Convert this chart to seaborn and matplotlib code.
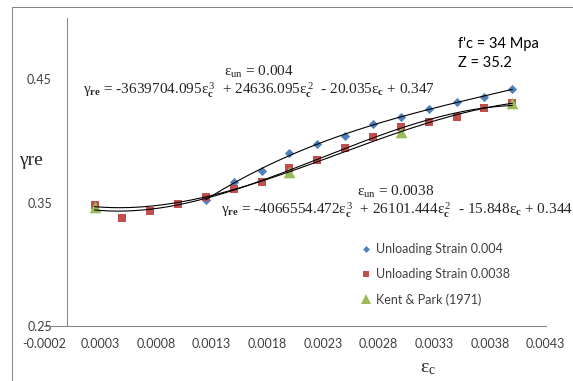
import numpy as np
import pandas as pd
import matplotlib
matplotlib.use("Agg")
import matplotlib.pyplot as plt
import seaborn as sns
from matplotlib.lines import Line2D
from matplotlib.patches import Rectangle

# ---- data -------------------------------------------------------------
strain_004 = [0.00125, 0.0015, 0.00175, 0.002, 0.00225, 0.0025,
              0.00275, 0.003, 0.00325, 0.0035, 0.00375, 0.004]
gamma_004 = [0.3522, 0.3670, 0.3757, 0.3901, 0.3974, 0.4043,
             0.4138, 0.4193, 0.4260, 0.4317, 0.4357, 0.4422]

strain_0038 = [0.00025, 0.0005, 0.00075, 0.001, 0.00125, 0.0015, 0.00175, 0.002,
               0.00225, 0.0025, 0.00275, 0.003, 0.00325, 0.0035, 0.00375, 0.004]
gamma_0038 = [0.3485, 0.3376, 0.3435, 0.3487, 0.3544, 0.3609, 0.3670, 0.3784,
              0.3846, 0.3946, 0.4035, 0.4116, 0.4157, 0.4197, 0.4266, 0.4309]

strain_kp = [0.00025, 0.002, 0.003, 0.004]
gamma_kp = [0.3468, 0.3751, 0.4076, 0.4306]

series_names = ["Unloading Strain 0.004", "Unloading Strain 0.0038", "Kent & Park (1971)"]

eq_004 = ["-3639704.095", "24636.095", "20.035", "0.347"]
eq_0038 = ["-4066554.472", "26101.444", "15.848", "0.344"]

x_ticks = [-0.0002, 0.0003, 0.0008, 0.0013, 0.0018, 0.0023, 0.0028, 0.0033, 0.0038, 0.0043]
x_tick_labels = ["-0.0002", "0.0003", "0.0008", "0.0013", "0.0018",
                 "0.0023", "0.0028", "0.0033", "0.0038", "0.0043"]
y_ticks = [0.25, 0.35, 0.45]
y_tick_labels = ["0.25", "0.35", "0.45"]

# ---- style ------------------------------------------------------------
sns.set_style("white")
plt.rcParams["font.family"] = ["Lato", "DejaVu Sans"]
plt.rcParams["mathtext.fontset"] = "custom"
plt.rcParams["mathtext.rm"] = "Liberation Serif"
plt.rcParams["mathtext.it"] = "Liberation Serif:italic"
plt.rcParams["mathtext.bf"] = "Liberation Serif:bold"

BLUE, RED, GREEN = "#4F81BD", "#C0504D", "#9BBB59"
AXIS_GREY = "#868686"
TEXT_GREY = "#404040"

W, H = 573, 381
fig = plt.figure(figsize=(W / 100, H / 100), dpi=100)


def px(x, y):
    return x / W, 1 - y / H


ax = fig.add_axes([44.4 / W, 1 - 326 / H, 501.3 / W, 308.3 / H])
ax.set_xlim(-0.0002, 0.0043)
ax.set_ylim(0.25, 0.5)

frames = []
for name, xs, ys in zip(series_names,
                        [strain_004, strain_0038, strain_kp],
                        [gamma_004, gamma_0038, gamma_kp]):
    frames.append(pd.DataFrame({"strain": xs, "gamma": ys, "series": name}))
df = pd.concat(frames, ignore_index=True)

styles = {
    series_names[0]: dict(marker="D", color=BLUE, s=22),
    series_names[1]: dict(marker="s", color=RED, s=30),
    series_names[2]: dict(marker="^", color=GREEN, s=70),
}
for name in series_names:
    st = styles[name]
    sns.scatterplot(data=df[df["series"] == name], x="strain", y="gamma",
                    marker=st["marker"], color=st["color"], s=st["s"],
                    linewidth=0, ax=ax, legend=False, zorder=3)

# third-order polynomial trendlines
for name in series_names:
    sub = df[df["series"] == name]
    coef = np.polyfit(sub["strain"], sub["gamma"], 3)
    xx = np.linspace(sub["strain"].min(), sub["strain"].max(), 200)
    sns.lineplot(x=xx, y=np.polyval(coef, xx), color="black", lw=0.8,
                 ax=ax, zorder=4, sort=False, estimator=None)

# axes
ax.spines["top"].set_visible(False)
ax.spines["right"].set_visible(False)
ax.spines["left"].set_position(("data", 0))
for s in ("left", "bottom"):
    ax.spines[s].set_color(AXIS_GREY)
    ax.spines[s].set_linewidth(0.75)
ax.set_xticks(x_ticks)
ax.set_xticklabels(x_tick_labels)
ax.set_yticks(y_ticks)
ax.set_yticklabels(y_tick_labels)
ax.tick_params(axis="both", direction="out", length=3.6, width=0.75,
               color=AXIS_GREY, labelcolor=TEXT_GREY, labelsize=9)
ax.tick_params(axis="y", pad=7)
ax.tick_params(axis="x", pad=5)
ax.set_xlabel("")
ax.set_ylabel("")
ax.grid(False)

# legend
handles = [
    Line2D([], [], marker="D", ls="none", color=BLUE, ms=3.5, mew=0),
    Line2D([], [], marker="s", ls="none", color=RED, ms=5, mew=0),
    Line2D([], [], marker="^", ls="none", color=GREEN, ms=7, mew=0),
]
ax.legend(handles, series_names, loc="upper left",
          bbox_to_anchor=((361 - 44.4) / 501.3, (326 - 243) / 308.3),
          frameon=False, handlelength=0.8, handletextpad=0.4,
          labelspacing=1.05, borderpad=0, borderaxespad=0,
          prop={"family": "Lato", "size": 9}, labelcolor=TEXT_GREY)

# annotations
serif = "Liberation Serif"
ec = r"$\mathrm{ε}_{\mathbf{c}}$"
ec3 = r"$\mathrm{ε}_{\mathbf{c}}^{\,3}$"
ec2 = r"$\mathrm{ε}_{\mathbf{c}}^{\,2}$"
gre = r"$\mathrm{γ}_{\mathbf{re}}$"

fig.text(*px(224, 76), r"$\mathrm{ε}_{\mathrm{un}}$ = 0.004", family=serif,
         fontsize=11, va="baseline", ha="left")
fig.text(*px(83, 95),
         f"{gre} = {eq_004[0]}{ec3}  + {eq_004[1]}{ec2}  - {eq_004[2]}{ec} + {eq_004[3]}",
         family=serif, fontsize=11, va="baseline", ha="left")
fig.text(*px(357, 196), r"$\mathrm{ε}_{\mathrm{un}}$ = 0.0038", family=serif,
         fontsize=11, va="baseline", ha="left")
fig.text(*px(221, 214),
         f"{gre} = {eq_0038[0]}{ec3}  + {eq_0038[1]}{ec2}  - {eq_0038[2]}{ec} + {eq_0038[3]}",
         family=serif, fontsize=11, va="baseline", ha="left")

fig.text(*px(458, 47.7), "f'c = 34 Mpa", fontsize=10.5, va="baseline", ha="left",
         color="black")
fig.text(*px(458, 66.7), "Z = 35.2", fontsize=10.5, va="baseline", ha="left",
         color="black")

fig.text(*px(19, 165), "γre", family=serif, fontsize=14, va="baseline", ha="left")
fig.text(*px(420, 372), r"$\mathrm{ε}_{\mathrm{c}}$", fontsize=14,
         va="baseline", ha="left")

# chart frame
fig.add_artist(Rectangle((12 / W, -0.1), 1.2, (H - 7) / H + 0.1,
                         transform=fig.transFigure, fill=False,
                         edgecolor=AXIS_GREY, lw=0.75))

fig.savefig("out.png", dpi=100)
